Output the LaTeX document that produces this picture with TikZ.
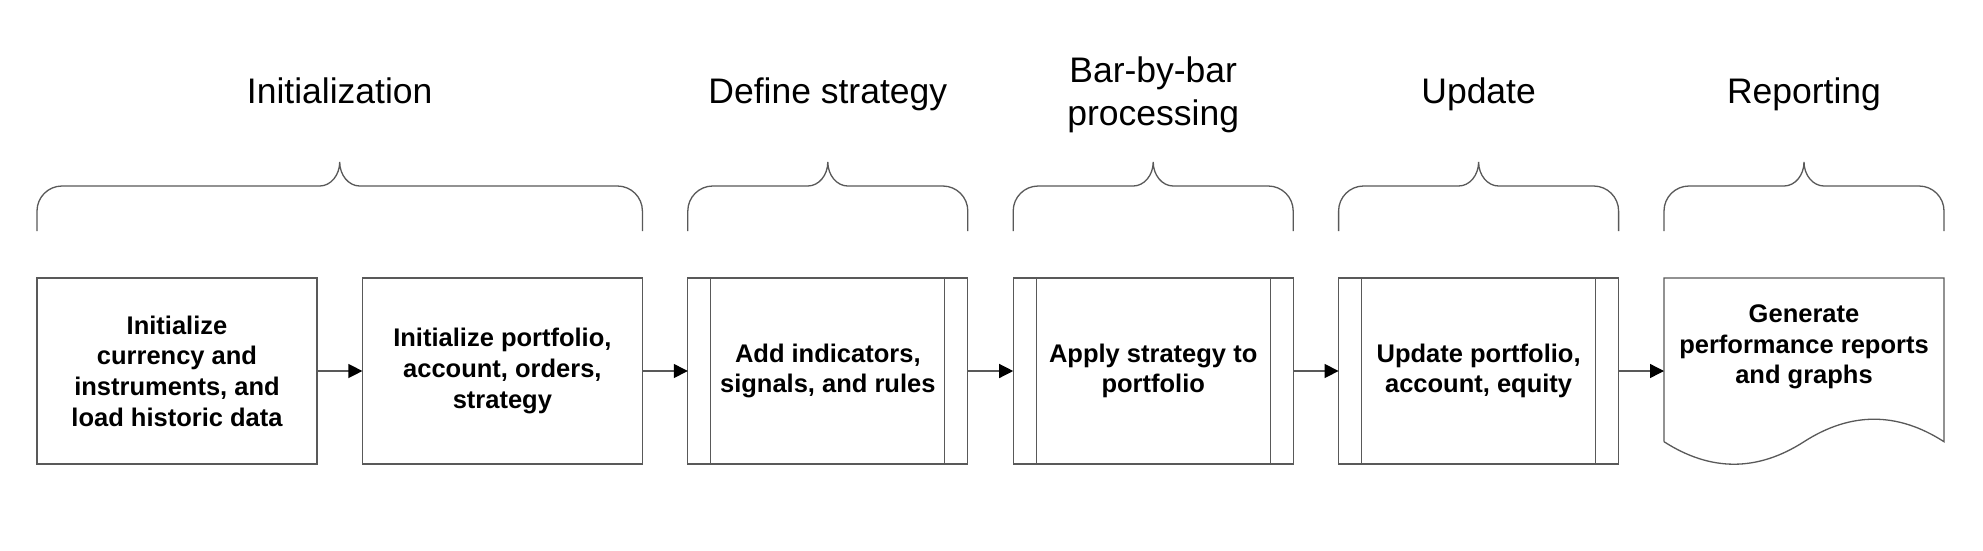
\documentclass[tikz,border=0pt]{standalone}
\usepackage{fontspec}
\setmainfont{Liberation Sans}
\usetikzlibrary{arrows.meta}
\definecolor{linegray}{gray}{0.35}
\tikzset{
  boxline/.style={draw=linegray, line width=1.3pt},
  stepbox/.style={boxline, rectangle, minimum width=280pt, minimum height=186pt,
    inner sep=0pt, outer sep=0pt, align=center,
    font=\bfseries\fontsize{25.5}{30.7}\selectfont},
  docbox/.style={rectangle, minimum width=280pt, minimum height=186pt,
    inner sep=0pt, outer sep=0pt},
  doctext/.style={align=center, inner sep=0pt, font=\bfseries\fontsize{25.5}{30.7}\selectfont},
  phase/.style={align=center, inner sep=0pt, font=\fontsize{35.5}{42.6}\selectfont},
  conn/.style={draw=linegray, line width=1.3pt, -{Triangle[length=14pt,width=14pt,color=black]}},
  braceline/.style={draw=linegray, line width=1.3pt}
}
% brace: #1 left x, #2 right x, #3 tip x
\newcommand{\mybrace}[3]{%
  \draw[braceline] (#1,231) -- (#1,211) .. controls (#1,197.2) and ({#1+11.2},186) .. ({#1+25},186)
    -- ({#3-20},186) .. controls ({#3-9},186) and (#3,175.2) .. (#3,162)
    .. controls (#3,175.2) and ({#3+9},186) .. ({#3+20},186)
    -- ({#2-25},186) .. controls ({#2-11.2},186) and (#2,197.2) .. (#2,211) -- (#2,231);}
\begin{document}
\begin{tikzpicture}[x=1pt,y=-1pt]
\useasboundingbox (0,0) rectangle (1983,550);
\fill[white] (0,0) rectangle (1983,550);

% titles
\node[phase, anchor=base] (t1) at (339.7,103.3) {Initialization};
\node[phase, anchor=base] (t2) at (827.8,103.3) {Define strategy};
\node[phase] (t3) at (1153.2,95) {Bar-by-bar\\processing};
\node[phase, anchor=base] (t4) at (1478.6,103.3) {Update};
\node[phase, anchor=base] (t5) at (1804,103.3) {Reporting};

% braces
\mybrace{37}{642.4}{339.7}
\mybrace{687.8}{967.8}{827.8}
\mybrace{1013.2}{1293.2}{1153.2}
\mybrace{1338.6}{1618.6}{1478.6}
\mybrace{1664}{1944}{1804}

% boxes
\node[stepbox] (b1) at (177,371) {Initialize\\currency and\\instruments, and\\load historic data};
\node[stepbox] (b2) at (502.4,371) {Initialize portfolio,\\account, orders,\\strategy};
\node[stepbox] (b3) at (827.8,371) {Add indicators,\\signals, and rules};
\node[stepbox] (b4) at (1153.2,371) {Apply strategy to\\portfolio};
\node[stepbox] (b5) at (1478.6,371) {Update portfolio,\\account, equity};
\node[docbox] (b6) at (1804,371) {};

% inner bars of predefined-process boxes
\foreach \b in {b3,b4,b5}{
  \draw[boxline] ([xshift=23pt]\b.north west) -- ([xshift=23pt]\b.south west);
  \draw[boxline] ([xshift=-23pt]\b.north east) -- ([xshift=-23pt]\b.south east);
}

% document shape
\draw[boxline] ([yshift=22.3pt]b6.south west) -- (b6.north west) -- (b6.north east)
  -- ([yshift=22.3pt]b6.south east)
  .. controls ([xshift=-46.7pt,yshift=52.3pt]b6.south east) and ([xshift=-93.3pt,yshift=52.3pt]b6.south east)
  .. ([xshift=-140pt,yshift=22.3pt]b6.south east)
  .. controls ([xshift=-186.7pt,yshift=-7.7pt]b6.south east) and ([xshift=-233.3pt,yshift=-7.7pt]b6.south east)
  .. ([yshift=22.3pt]b6.south west);
\node[doctext] (b6t) at (1804,347) {Generate\\performance reports\\and graphs};

% connectors
\draw[conn] (b1.east) -- (b2.west);
\draw[conn] (b2.east) -- (b3.west);
\draw[conn] (b3.east) -- (b4.west);
\draw[conn] (b4.east) -- (b5.west);
\draw[conn] (b5.east) -- (b6.west);
\end{tikzpicture}
\end{document}
